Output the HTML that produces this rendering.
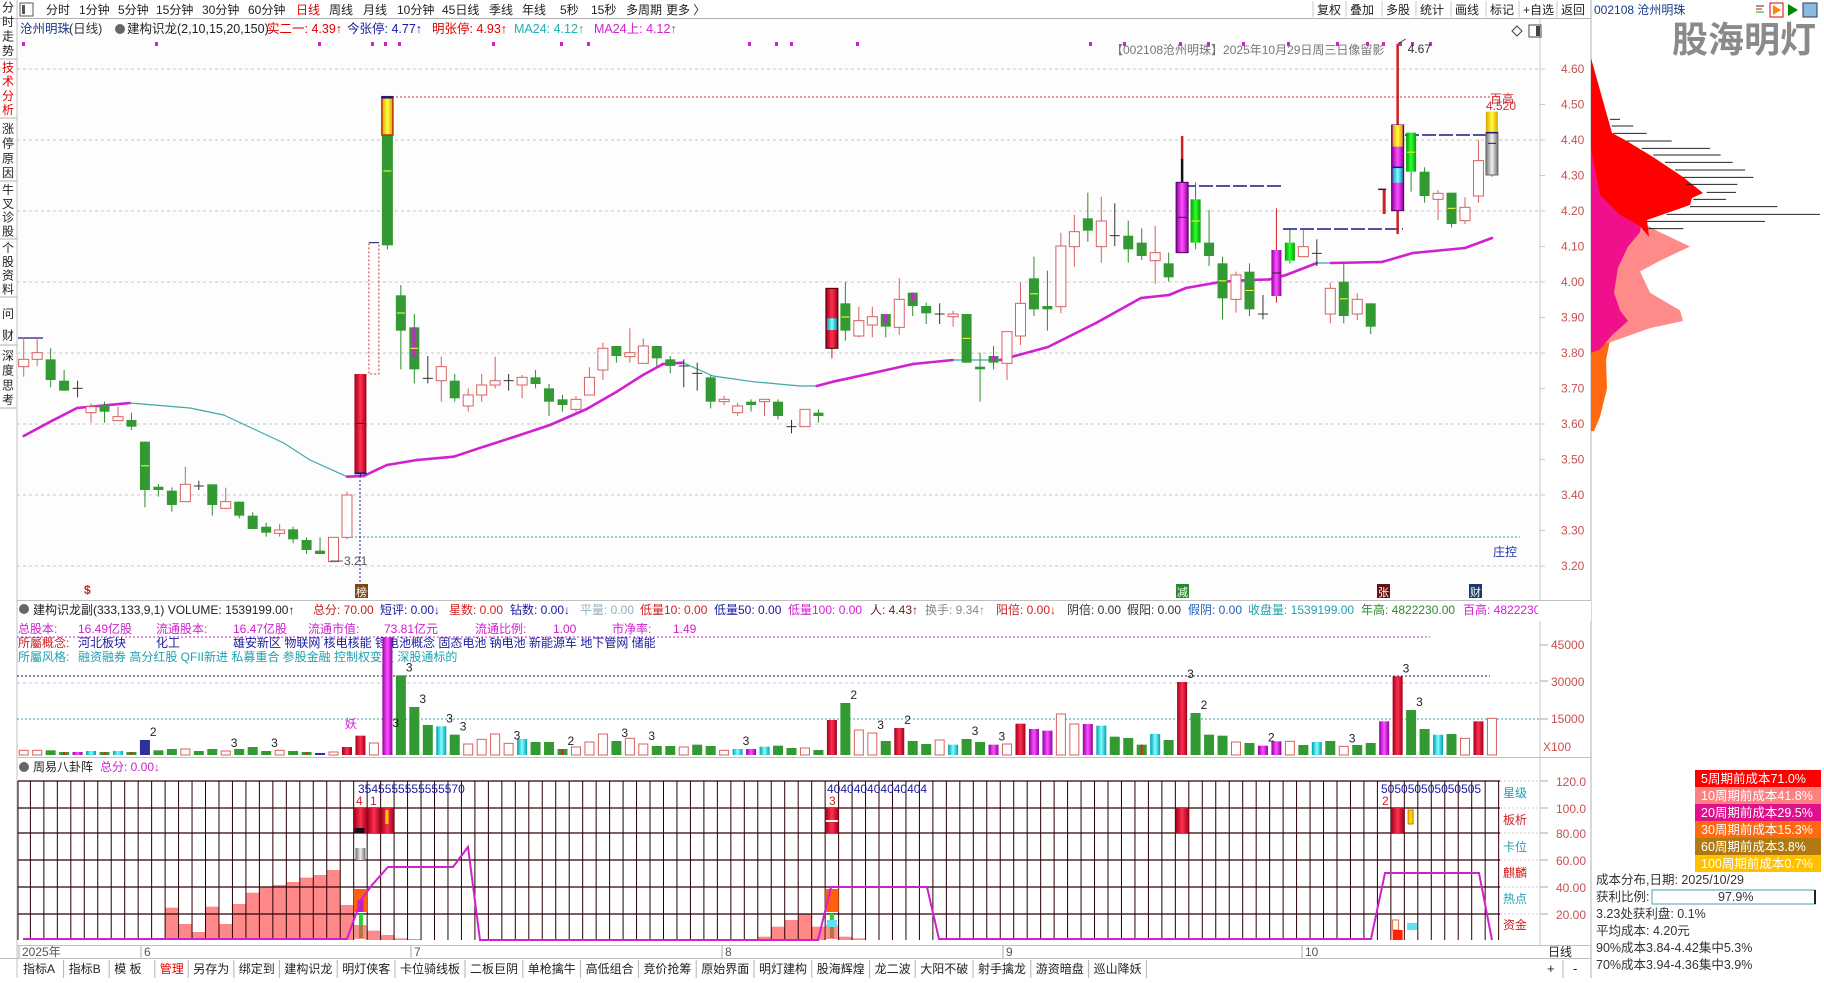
<!DOCTYPE html>
<html><head><meta charset="utf-8">
<style>
html,body{margin:0;padding:0;background:#fff;}
body{width:1824px;height:978px;overflow:hidden;position:relative;font-family:"Liberation Sans","Noto Sans CJK SC",sans-serif;}
svg text{font-family:"Liberation Sans","Noto Sans CJK SC",sans-serif;}
</style></head>
<body>
<svg id="s" width="1824" height="978" viewBox="0 0 1824 978" xmlns="http://www.w3.org/2000/svg">
<defs>
<linearGradient id="gr" x1="0" x2="1"><stop offset="0" stop-color="#a0001a"/><stop offset=".5" stop-color="#ff3050"/><stop offset="1" stop-color="#a0001a"/></linearGradient>
<linearGradient id="gp" x1="0" x2="1"><stop offset="0" stop-color="#9000a0"/><stop offset=".5" stop-color="#ff50ff"/><stop offset="1" stop-color="#9000a0"/></linearGradient>
<linearGradient id="gg" x1="0" x2="1"><stop offset="0" stop-color="#00a000"/><stop offset=".5" stop-color="#30ff30"/><stop offset="1" stop-color="#00a000"/></linearGradient>
<linearGradient id="gy" x1="0" x2="1"><stop offset="0" stop-color="#e0a000"/><stop offset=".5" stop-color="#ffff40"/><stop offset="1" stop-color="#e0a000"/></linearGradient>
<linearGradient id="gs" x1="0" x2="1"><stop offset="0" stop-color="#707070"/><stop offset=".5" stop-color="#f0f0f0"/><stop offset="1" stop-color="#707070"/></linearGradient>
<linearGradient id="gc" x1="0" x2="1"><stop offset="0" stop-color="#00a0b0"/><stop offset=".5" stop-color="#80ffff"/><stop offset="1" stop-color="#00a0b0"/></linearGradient>
</defs>
<g id="root"></g>
</svg>
<script>
(function(){
var R=document.getElementById('root'),h=[];
function a(s){h.push(s);}
function rect(x,y,w,hh,f,st,sw,ex){a('<rect x="'+x+'" y="'+y+'" width="'+w+'" height="'+hh+'" fill="'+(f||'none')+'"'+(st?' stroke="'+st+'" stroke-width="'+(sw||1)+'"':'')+(ex||'')+'/>');}
function line(x1,y1,x2,y2,c,w,ex){a('<line x1="'+x1+'" y1="'+y1+'" x2="'+x2+'" y2="'+y2+'" stroke="'+c+'" stroke-width="'+(w||1)+'"'+(ex||'')+'/>');}
function txt(x,y,t,c,fs,ex){a('<text x="'+x+'" y="'+y+'" fill="'+c+'" font-size="'+(fs||12)+'"'+(ex||'')+'>'+t+'</text>');}
var X=function(i){return 23.7+13.47*i;},Y=function(z){return 60+z/3;};
var P=function(p){return 69+(4.6-p)*355;};
rect(0,0,1824,978,'#fff');
rect(17,19,1523,581,'#fdfdfd');
line(0,18.5,1591,18.5,'#b0b0b0');
line(17,0,17,978,'#c0c0c0');
line(1540,19,1540,945,'#c8c8c8');
line(1591,0,1591,978,'#b0b0b0');
line(17,600.5,1591,600.5,'#c0c0c0');
line(17,757.5,1591,757.5,'#c0c0c0');
line(17,945.5,1591,945.5,'#c0c0c0');
line(0,958.5,1591,958.5,'#c0c0c0');
rect(20,3,13,13,'#fff','#555');rect(22,5,3,9,'#555');
var tb=[['分时',46],['1分钟',79],['5分钟',118],['15分钟',156],['30分钟',202],['60分钟',248],['日线',296,'#e00000'],['周线',329],['月线',363],['10分钟',397],['45日线',442],['季线',489],['年线',522],['5秒',560],['15秒',591],['多周期',626],['更多 〉',666]];
tb.forEach(function(t){txt(t[1],14,t[0],t[2]||'#222',12);});
var tr=[['复权',1317],['叠加',1350],['多股',1386],['统计',1420],['画线',1455],['标记',1490],['+自选',1523],['返回',1561]];
tr.forEach(function(t){txt(t[1],14,t[0],'#222',12);line(t[1]-4,1,t[1]-4,17,'#c8c8c8');});
txt(1594,14,'002108 沧州明珠','#1a3a8a',12);
rect(1755,4,10,12,'#fff');line(1756,6,1764,6,'#333');line(1756,9,1762,9,'#e00');line(1756,12,1764,12,'#0a0');
rect(1770,3,13,14,'#fff','#d00');a('<polygon points="1773,5 1781,10 1773,15" fill="#f80"/>');
a('<polygon points="1788,4 1798,10 1788,16" fill="#080"/>');
rect(1803,3,14,14,'#8bd','#335');
a('<text x="1672" y="52" font-size="36" font-weight="bold" fill="#8a8a8a" stroke="#fff" stroke-width="1.2" style="paint-order:stroke">股海明灯</text>');
var lt=[['分时走势',0,58,'#222'],['技术分析',60,117,'#e00000'],['涨停原因',121,180,'#222'],['牛叉诊股',183,238,'#222'],['个股资料',241,296,'#222'],['问财',301,344,'#222'],['深度思考',348,407,'#222']];
lt.forEach(function(t){line(0,t[2]+1,17,t[2]+1,'#b0b0b0');var n=t[0].length,st=(t[2]-t[1])/n;for(var k=0;k<n;k++)txt(2,t[1]+st*k+st*0.8,t[0][k],t[3],12);});
txt(20,33,'沧州明珠','#1a3a8a',12.5);txt(69,33,'(日线)','#333',12.5);
a('<circle cx="120" cy="29" r="5" fill="#666"/>');txt(127,33,'建构识龙(2,10,15,20,150)','#222',12.5);
txt(267,33,'实二一: 4.39↑','#e00000',12.5);txt(347,33,'今张停: 4.77↑','#1a1aa0',12.5);txt(432,33,'明张停: 4.93↑','#e00000',12.5);
txt(514,33,'MA24: 4.12↑','#20b0b0',12.5);txt(594,33,'MA24上: 4.12↑','#d020d0',12.5);
[23,156,319,372,385,399,493,561,588,749,776,791,857,1090,1124,1180,1208,1243,1288,1337,1367,1383,1400,1412,1430].forEach(function(x){rect(x-1,42,3,4,'#d020d0');});
txt(1111,54,'【002108沧州明珠】2025年10月29日周三日像留影','#777',12);
a('<polygon points="1512,31 1517,26 1522,31 1517,36" fill="none" stroke="#444"/>');rect(1529,25,12,12,'#fff','#444');rect(1536,26,4,10,'#444');
for(var p=4.6;p>3.15;p-=0.2){var y=P(p);line(17,y,1540,y,'#c8c8c8',1,' stroke-dasharray="3,3"');}
for(var k=0;k<=14;k++){var pp=(4.6-k*0.1),y=P(pp);txt(1561,y+4,pp.toFixed(2),'#c85050',12);line(1540,y,1545,y,'#c8c8c8');}
line(392,97,1500,97,'#d03030',1,' stroke-dasharray="2,2"');
line(347,537,1520,537,'#30a0b0',1,' stroke-dasharray="2,2"');
line(360,472,360,600,'#1a1a80',1,' stroke-dasharray="2,2"');
line(1182,186,1282,186,'#1a1a80',1.5,' stroke-dasharray="14,3"');
line(1283,229,1403,229,'#1a1a80',1.5,' stroke-dasharray="14,3"');
line(1405,135,1486,135,'#1a1a80',1.5,' stroke-dasharray="14,3"');
line(18,338,43,338,'#1a1a80',1.2);
var ma=[[23.7,436],[50.3,421.7],[77,408],[130,403],[190,408],[223.7,415],[283.7,443],[310,460],[347,476.7],[363.7,476],[387,465],[417,460],[453.7,456.7],[483.7,446.7],[517,436],[550,425],[586.7,409],[616.7,391.7],[643,375],[663,364],[683,362.7],[713,376],[753,381.7],[800,386],[816.7,386],[833,381.7],[873,373],[913,364],[953,360],[1000,360],[1048,347],[1096,323],[1141,298],[1169,295],[1186,288],[1220,282],[1248,280],[1269,279.5],[1286,275],[1317,263],[1331,263],[1382,262],[1399,257],[1413,253],[1465,248],[1492,238]];
for(var k=1;k<ma.length;k++){var up=ma[k][1]<ma[k-1][1]-0.3;line(ma[k-1][0],ma[k-1][1],ma[k][0],ma[k][1],up?'#d020d0':'#40a8a8',up?2.6:1.2,' stroke-linecap="round"');}
var C=[[0,'r',898,920,833,950],[1,'r',878,898,833,918],[2,'g',898,960,865,982],[3,'g',962,992,930,992],[4,'x',985,985,962,1012],[5,'r',1040,1058,1030,1088],[6,'g',1035,1055,1025,1088],[7,'r',1070,1082,1040,1082],[8,'g',1080,1100,1058,1110],[9,'g',1145,1290,1145,1342],[10,'g',1280,1290,1272,1310],[11,'g',1292,1335,1282,1355],[12,'r',1273,1325,1220,1325],[13,'x',1278,1278,1262,1290],[14,'g',1273,1335,1273,1367],[15,'r',1325,1345,1283,1345],[16,'g',1325,1367,1325,1375],[17,'g',1367,1407,1357,1407],[18,'g',1400,1418,1388,1430],[19,'r',1410,1420,1392,1430],[20,'g',1408,1438,1400,1450],[21,'g',1440,1470,1432,1482],[22,'g',1472,1482,1432,1482],[23,'r',1432,1505,1432,1505],[24,'r',1305,1432,1295,1438],
[28,'g',706,812,675,928],[29,'gp',802,928,762,970],[30,'x',955,955,888,970],[31,'r',920,962,890,1025],[32,'g',962,1015,942,1025],[33,'r',1005,1038,985,1055],[34,'r',975,1005,942,1025],[35,'r',962,975,890,985],[36,'x',962,962,942,992],
[37,'r',952,975,945,1015],[38,'g',952,972,930,985],[39,'g',985,1025,972,1068],[40,'g',1018,1035,1005,1055],[41,'r',1018,1048,1008,1055],[42,'r',952,1005,922,1005],[43,'r',865,930,848,960],[44,'g',858,888,858,908],[45,'r',878,890,805,908],[46,'r',858,910,836,910],[47,'g',858,895,858,918],[48,'g',898,918,888,940],[49,'x',918,918,898,982],[50,'x',940,940,908,992],[51,'g',952,1025,945,1045],[52,'r',1018,1025,1008,1035],[53,'r',1038,1058,1028,1068],[54,'g',1025,1035,1018,1055],[55,'r',1018,1025,1018,1068],[56,'g',1025,1068,1018,1078],[57,'x',1100,1100,1080,1120],[58,'r',1048,1100,1048,1100],[59,'g',1058,1068,1048,1088],
[61,'g',730,812,665,842],[62,'r',782,828,740,832],[63,'r',770,795,740,832],[64,'gp',762,800,762,832],[65,'r',718,802,655,825],[66,'gp',698,738,698,768],[67,'g',738,760,728,792],[68,'x',762,762,730,792],[69,'r',762,770,752,800],[70,'g',762,908,762,908],[71,'g',920,928,878,1025],[72,'gp',888,908,858,928],
[73,'r',815,910,815,960],[74,'r',730,828,668,855],[75,'g',655,748,590,768],[76,'g',738,748,632,812],[77,'r',558,740,518,760],[78,'r',515,560,465,620],[79,'g',475,512,398,545],[80,'r',483,560,410,608],[81,'x',527,527,430,558],[82,'g',527,568,482,608],[83,'g',548,588,505,600],[84,'r',578,602,498,672],[85,'g',610,652,578,665],[87,'G',418,548,367,568],[88,'g',548,588,450,618],[89,'g',610,715,590,778],[90,'r',645,718,635,758],[91,'g',635,748,610,768],[92,'x',762,762,705,778],[93,'P',570,708,445,728],[94,'G',548,602,508,610],[95,'r',560,590,508,590],[96,'x',580,580,538,618],[97,'r',685,762,668,790],[98,'g',665,768,610,790],[99,'r',718,762,700,780],[100,'g',730,800,730,822],[103,'G',218,335,218,395],[104,'g',335,408,322,428],[105,'r',400,418,390,480],[106,'g',398,492,398,502],[107,'r',442,482,412,492],[108,'r',302,408,240,428]];
var W=10;
C.forEach(function(c){var x=X(c[0]),t=Y(c[2]),b=Y(c[3]),hi=Y(c[4]),lo=Y(c[5]);var ty=c[1];
 if(ty=='x'){line(x,hi,x,lo,'#333');line(x-5,t,x+5,t,'#333');return;}
 if(ty=='r'){line(x,hi,x,t,'#d86060');line(x,b,x,lo,'#d86060');rect(x-W/2,t,W,Math.max(b-t,1),'#fff','#d86060');return;}
 var col=ty=='G'?'url(#gg)':ty=='P'?'url(#gp)':'#339933';var wc=ty=='P'?'#cc2020':'#2e8b2e';
 line(x,hi,x,lo,wc);rect(x-W/2,t,W,Math.max(b-t,1.5),col);
 if(ty=='gp')rect(x-2,t,4,(b-t)*0.7,'#c030c0');
 if((b-t)>25)line(x-4,(t+b)/2,x+4,(t+b)/2,ty=='P'?'#222':'#ffff40');
});
var x;
x=X(25);line(x,Y(942),x,Y(1250),'#1a1a80',1);rect(x-6,Y(942),12,Y(1240)-Y(942),'url(#gr)');line(x-6,Y(1240),x+6,Y(1240),'#1a1a80',2);line(x-4,Y(1090),x+4,Y(1090),'#222');
x=X(26);rect(x-5,Y(548),10,Y(942)-Y(548),'none','#d03030',1,' stroke-dasharray="2,2"');line(x-5,Y(548),x+5,Y(548),'#1a1a80');
x=X(27);line(x,Y(110),x,Y(568),'#2e8b2e');rect(x-5.5,Y(110),11,Y(556)-Y(110),'#339933');rect(x-5.5,Y(110),11,Y(225)-Y(110),'url(#gy)','#c03000',1.5);line(x-6,Y(112),x+6,Y(112),'#1a1a80',2.5);line(x-4,Y(333),x+4,Y(333),'#ffff40');
x=X(60);line(x,Y(685),x,Y(895),'#c02020');rect(x-6,Y(685),12,Y(865)-Y(685),'url(#gr)','#400');rect(x-5,Y(775),10,Y(810)-Y(775),'url(#gc)');
x=X(86);line(x,Y(228),x,Y(296),'#d02020',2.5);line(x,Y(296),x,Y(367),'#111',2.5);rect(x-6,Y(367),12,Y(578)-Y(367),'url(#gp)','#500060');line(x-4,Y(472),x+4,Y(472),'#222');
x=X(101);line(x,Y(388),x,Y(462),'#d02020',3);line(x-6,Y(388),x+2,Y(388),'#1a1a80',1.5);
x=X(102);line(x,44,x,Y(522),'#d02020',2.5);rect(x-6,Y(195),12,Y(452)-Y(195),'url(#gp)','#500060');rect(x-5,Y(195),10,Y(260)-Y(195),'url(#gy)');rect(x-5,Y(322),10,Y(368)-Y(322),'url(#gc)');line(x-5,Y(322),x+5,Y(322),'#1a1a80',1.5);
line(x,44,x+8,39,'#333',0.8);txt(x+10,53,'4.67','#333',12);
x=X(109);line(x,Y(155),x,Y(350),'#555');rect(x-6,Y(218),12,Y(345)-Y(218),'url(#gs)','#666');rect(x-6,Y(155),12,Y(218)-Y(155),'url(#gy)');line(x-4,Y(250),x+4,Y(250),'#222');line(x-6,Y(218),x+6,Y(218),'#1a1a80',1.5);
txt(1490,103,'百高','#d03030',12);txt(1486,110,'4.520','#d03030',12);
txt(1493,556,'庄控','#2030b0',12);
line(330,561,343,561,'#333',0.8);txt(344,565,'3.21','#555',12);
txt(84,594,'$','#d02020',12,' font-weight="bold"');
rect(355,584,13,14,'#7a4a10');txt(356,596,'榜','#fff',11);
rect(1176,584,13,14,'#2a8a2a');txt(1177,596,'减','#fff',11);
rect(1377,584,13,14,'#6a1010');txt(1378,596,'张','#fff',11);
rect(1469,584,13,14,'#1a3a6a');txt(1470,596,'财','#fff',11);
a('<circle cx="24" cy="609" r="5" fill="#666"/>');
var vh=[['建构识龙副(333,133,9,1) VOLUME: 1539199.00↑','#222',33],['总分: 70.00','#c02020',313],['短评: 0.00↓','#1a1aa0',380],['星数: 0.00','#d02020',449],['钻数: 0.00↓','#1a1aa0',510],['平量: 0.00','#90b0c0',580],['低量10: 0.00','#d02020',640],['低量50: 0.00','#1a1aa0',714],['低量100: 0.00','#d020d0',788],['人: 4.43↑','#6a1a1a',870],['换手: 9.34↑','#888',925],['阳倍: 0.00↓','#d02020',996],['阴倍: 0.00','#333',1067],['假阳: 0.00','#333',1127],['假阴: 0.00','#2060c0',1188],['收盘量: 1539199.00','#20a0b0',1248],['年高: 4822230.00','#2e8b2e',1361],['百高: 4822230','#d020d0',1463]];
vh.forEach(function(t){txt(t[2],614,t[0],t[1],12);});
rect(1538,601,53,20,'#fff');
var mg='#d020d0';
[['总股本:',18],['16.49亿股',78],['流通股本:',156],['16.47亿股',233],['流通市值:',308],['73.81亿元',384],['流通比例:',475],['1.00',553],['市净率:',612],['1.49',673]].forEach(function(t){txt(t[1],633,t[0],mg,12);});
line(17,637,1430,637,mg,1,' stroke-dasharray="2,2"');
txt(18,647,'所屬概念:','#d02020',12);txt(78,647,'河北板块','#1a1aa0',12);txt(156,647,'化工','#1a1aa0',12);txt(233,647,'雄安新区 物联网 核电核能 锂电池概念 固态电池 钠电池 新能源车 地下管网 储能','#1a1aa0',12);
txt(18,661,'所屬风格:','#20a0b0',12);txt(78,661,'融资融券 高分红股 QFII新进 私募重合 参股金融 控制权变更 深股通标的','#20a0b0',12);
line(17,676,1490,676,'#1a1a60',1,' stroke-dasharray="2,2"');
line(17,683,1540,683,'#c8c8c8',1,' stroke-dasharray="3,3"');
line(17,719,1540,719,'#30a0b0',1,' stroke-dasharray="2,2"');
line(1540,645,1548,645,'#aaa');line(1540,681,1548,681,'#aaa');line(1540,719,1548,719,'#aaa');
txt(1551,649,'45000','#c85050',12);txt(1551,686,'30000','#c85050',12);txt(1551,723,'15000','#c85050',12);txt(1543,751,'X100','#c85050',12);
var V=[[0,'h',457],[1,'h',457],[2,'g',457],[3,'x',462],[4,'p',462],[5,'c',459],[6,'x',462],[7,'c',459],[8,'x',462],[9,'n',426],[10,'g',457],[11,'g',453],[12,'h',453],[13,'g',459],[14,'g',453],[15,'h',459],[16,'g',453],[17,'g',447],[18,'g',459],[19,'h',457],[20,'g',459],[21,'x',462],[22,'n',465],[23,'h',462],[24,'r',447],[25,'r',413],[26,'h',435],[27,'p',118],[28,'g',232],[29,'g',327],[30,'g',381],[31,'c',385],[32,'g',410],[33,'h',438],[34,'h',424],[35,'h',408],[36,'h',436],[37,'c',423],[38,'g',432],[39,'g',432],[40,'x',453],[41,'h',447],[42,'h',432],[43,'h',408],[44,'g',429],[45,'h',421],[46,'h',438],[47,'g',444],[48,'g',444],[49,'h',447],[50,'g',440],[51,'g',444],[52,'h',457],[53,'c',453],[54,'p',453],[55,'c',446],[56,'g',443],[57,'g',450],[58,'h',450],[59,'g',456],[60,'r',366],[61,'g',315],[62,'h',396],[63,'h',405],[64,'g',429],[65,'r',390],[66,'g',429],[67,'g',438],[68,'h',426],[69,'c',440],[70,'g',423],[71,'g',432],[72,'p',440],[73,'h',438],[74,'r',377],[75,'p',393],[76,'p',398],[77,'h',348],[78,'h',378],[79,'p',378],[80,'c',383],[81,'g',416],[82,'g',420],[83,'x',440],[84,'c',408],[85,'g',426],[86,'r',252],[87,'g',345],[88,'g',410],[89,'g',413],[90,'h',432],[91,'g',435],[92,'p',443],[93,'p',430],[94,'h',430],[95,'g',441],[96,'c',432],[97,'g',429],[98,'h',445],[99,'g',441],[100,'g',435],[101,'p',370],[102,'r',235],[103,'g',336],[104,'g',393],[105,'c',410],[106,'g',408],[107,'h',421],[108,'r',370],[109,'h',361]];
var vb=755,vt={};
V.forEach(function(v){var x=X(v[0])-5,t=598+v[2]/3,hh=vb-t,ty=v[1];vt[v[0]]=t;
 if(ty=='h')rect(x+0.5,t,9,hh,'#fff','#d86060');
 else if(ty=='g')rect(x,t,10,hh,'#339933');
 else if(ty=='x'){rect(x,t,10,hh,'#339933');rect(x+4,t,2,hh,'#e02020');}
 else if(ty=='c')rect(x,t,10,hh,'url(#gc)');
 else if(ty=='p')rect(x,t,10,hh,'url(#gp)');
 else if(ty=='n')rect(x,t,10,hh,'#30309a');
 else if(ty=='r')rect(x,t,10,hh,'url(#gr)');
});
[[9,'2'],[15,'3'],[18,'3'],[27,'3'],[28,'3'],[29,'3'],[31,'3'],[32,'3'],[36,'3'],[40,'2'],[44,'3'],[46,'3'],[53,'3'],[61,'2'],[63,'3'],[65,'2'],[70,'3'],[72,'3'],[86,'3'],[87,'2'],[92,'2'],[98,'3'],[102,'3'],[103,'3']].forEach(function(l){var t=vt[l[0]];if(l[0]==27)t=731;txt(X(l[0])+5,t-4,l[1],'#222',12);});
txt(345,728,'妖','#d020d0',12);
a('<circle cx="24" cy="767" r="5" fill="#666"/>');txt(33,771,'周易八卦阵','#222',12);txt(100,771,'总分: 0.00↓','#d020d0',12);
var gt=781,gb=940;
var pk=[[11,443],[12,492],[13,516],[14,440],[15,492],[16,432],[17,398],[18,383],[19,375],[20,366],[21,353],[22,345],[23,330],[24,435],[26,512],[27,525],[28,535],[29,537],[55,530],[56,500],[57,480],[58,462],[59,500],[61,530],[62,535]];
pk.forEach(function(q){var t=760+q[1]/3;rect(X(q[0])-6.7,t,13.47,gb-t,'#ff8888');});
for(var k=0;k<110;k++){var xx=X(k)+6.7;if(xx<1502)line(xx,gt,xx,gb,'#2a0004',1);}
line(18,gt,18,gb,'#2a0004');
[781,808,833,860,887,914].forEach(function(y){line(18,y,1500,y,'#2a0004',1.2);});
function blk(i,y1,y2,f){rect(X(i)-6.7,y1,13.47,y2-y1,f);}
blk(25,808,833,'url(#gr)');blk(26,808,833,'url(#gr)');blk(27,808,833,'url(#gr)');rect(X(25)-6,828,10,5,'#111');rect(X(27)-2,810,3,14,'#ffd000');
rect(X(25)-5,848,10,12,'url(#gs)');
blk(25,889,912,'#ff6010');rect(X(25)-3,900,6,12,'#c020c0');rect(X(25)-1.5,914,4,24,'#30d030');rect(X(25)-6,925,12,14,'#ff4040',null,null,' opacity=".6"');
blk(60,808,833,'url(#gr)');line(X(60)-6,821,X(60)+6,821,'#fff',2);
blk(60,889,912,'#ff6010');rect(X(60)-2,914,4,24,'#30d030');rect(X(60)-6,925,12,14,'#ff4040',null,null,' opacity=".6"');rect(X(60)-5,920,10,7,'#60e0f0');
blk(86,808,833,'url(#gr)');blk(102,808,833,'url(#gr)');rect(X(103)-3,810,5,14,'#ffd000','#c08000');
rect(X(102)-5,920,6,10,'#fff','#e07030');rect(X(102)-5,930,10,10,'#ff2000');rect(X(103)-4,923,10,7,'#60e0f0');
a('<polyline points="23,939 347,939 361,900 372,885 388,867 453,867 468,847 480,940 818,940 831,887 927,887 939,939 1371,939 1385,873 1479,873 1492,940" fill="none" stroke="#d020d0" stroke-width="2"/>');
txt(358,793,'3545555555555570','#1a1aa0',12);txt(356,805,'4','#d02020',12);txt(370,805,'1','#d02020',12);
txt(827,793,'404040404040404','#1a1aa0',12);txt(829,805,'3','#d02020',12);
txt(1381,793,'505050505050505','#1a1aa0',12);txt(1382,805,'2','#d02020',12);
[['星级',793,'#20a0b0'],['板析',820,'#d02020'],['卡位',847,'#20a0b0'],['麒麟',873,'#d02020'],['热点',899,'#20a0b0'],['资金',925,'#d02020']].forEach(function(t){txt(1503,t[1]+4,t[0],t[2],12);});
[['120.0',781],['100.0',808],['80.00',833],['60.00',860],['40.00',887],['20.00',914]].forEach(function(t){txt(1556,t[1]+5,t[0],'#c85050',12);line(1540,t[1],1548,t[1],'#aaa');line(1500,t[1],1540,t[1],'#ccc',1,' stroke-dasharray="2,2"');});
[['2025年',22],['6',144],['7',414],['8',725],['9',1006],['10',1305]].forEach(function(t){txt(t[1],956,t[0],'#555',12);line(t[1]-3,946,t[1]-3,958,'#aaa');});
txt(1548,956,'日线','#222',12);
var bt=['指标A','指标B','模 板','管理','另存为','绑定到','建构识龙','明灯侠客','卡位骑线板','二板巨阴','单枪擒牛','高低组合','竞价抢筹','原始界面','明灯建构','股海辉煌','龙二波','大阳不破','射手擒龙','游资暗盘','巡山降妖'];
var bx=19;bt.forEach(function(t){var w=t.length*12.2+8;txt(bx+4,973,t,t=='管理'?'#e00000':'#222',12);line(bx+w,960,bx+w,978,'#b0b0b0');bx+=w+1;});
txt(1547,973,'+','#222',13);txt(1573,973,'-','#222',13);line(1563,960,1563,978,'#b0b0b0');
function pc(p){return P(p);}
a('<polygon points="1591,'+pc(3.58)+' 1591,'+pc(4.25)+' 1593,'+pc(4.22)+' 1596,'+pc(4.15)+' 1598,'+pc(4.05)+' 1602,'+pc(3.95)+' 1608,'+pc(3.90)+' 1611,'+pc(3.85)+' 1606,'+pc(3.78)+' 1607,'+pc(3.70)+' 1600,'+pc(3.62)+' 1594,'+pc(3.58)+'" fill="#ff6a10"/>');
a('<polygon points="1591,'+pc(3.82)+' 1591,'+pc(4.38)+' 1600,'+pc(4.30)+' 1618,'+pc(4.24)+' 1640,'+pc(4.17)+' 1660,'+pc(4.14)+' 1690,'+pc(4.10)+' 1660,'+pc(4.06)+' 1640,'+pc(4.03)+' 1650,'+pc(3.97)+' 1680,'+pc(3.92)+' 1683,'+pc(3.89)+' 1650,'+pc(3.87)+' 1610,'+pc(3.83)+'" fill="#ff8a8a"/>');
a('<polygon points="1591,'+pc(3.80)+' 1591,'+pc(4.40)+' 1597,'+pc(4.35)+' 1605,'+pc(4.28)+' 1625,'+pc(4.22)+' 1642,'+pc(4.19)+' 1640,'+pc(4.14)+' 1628,'+pc(4.10)+' 1618,'+pc(4.04)+' 1614,'+pc(3.97)+' 1620,'+pc(3.92)+' 1628,'+pc(3.89)+' 1612,'+pc(3.85)+' 1600,'+pc(3.81)+'" fill="#f0108c"/>');
a('<polygon points="1591,58 1612,133 1625,140 1653,157 1683,177 1703,193 1692,198 1690,205 1647,220 1649,237 1640,226 1620,215 1600,195 1591,148" fill="#ff0000"/>');
var bl=[[930,960,358],[935,1000,378],[940,1040,400],[980,1115,423],[1025,1230,445],[1060,1262,465],[1095,1298,487],[1125,1335,510],[1150,1360,532],[1160,1312,553],[1220,1308,577],[1180,1278,598],[1170,1432,620],[1100,1560,643],[1035,1395,664],[1045,1150,686]];
bl.forEach(function(b){line(1300+b[0]/3,b[2]/3,1300+b[1]/3,b[2]/3,'#222',1);});
var lg=[['5周期前成本71.0%','#ff0000'],['10周期前成本41.8%','#ff8080'],['20周期前成本29.5%','#e0108c'],['30周期前成本15.3%','#ff6a10'],['60周期前成本3.8%','#b07a10'],['100周期前成本0.7%','#ffc000']];
lg.forEach(function(l,k){var y=770+k*17;rect(1695,y,126,17,l[1]);txt(1701,y+13,l[0],'#fff',12.5);});
txt(1596,884,'成本分布,日期: 2025/10/29','#333',12.5);
txt(1596,901,'获利比例:','#333',12.5);rect(1652,890,163,14,'#fff','#40a0b0');line(1815,890,1815,904,'#222',2);txt(1718,901,'97.9%','#333',12.5);
txt(1596,918,'3.23处获利盘: 0.1%','#333',12.5);
txt(1596,935,'平均成本: 4.20元','#333',12.5);
txt(1596,952,'90%成本3.84-4.42集中5.3%','#333',12.5);
txt(1596,969,'70%成本3.94-4.36集中3.9%','#333',12.5);
R.innerHTML=h.join('');
})();
</script>
</body></html>
